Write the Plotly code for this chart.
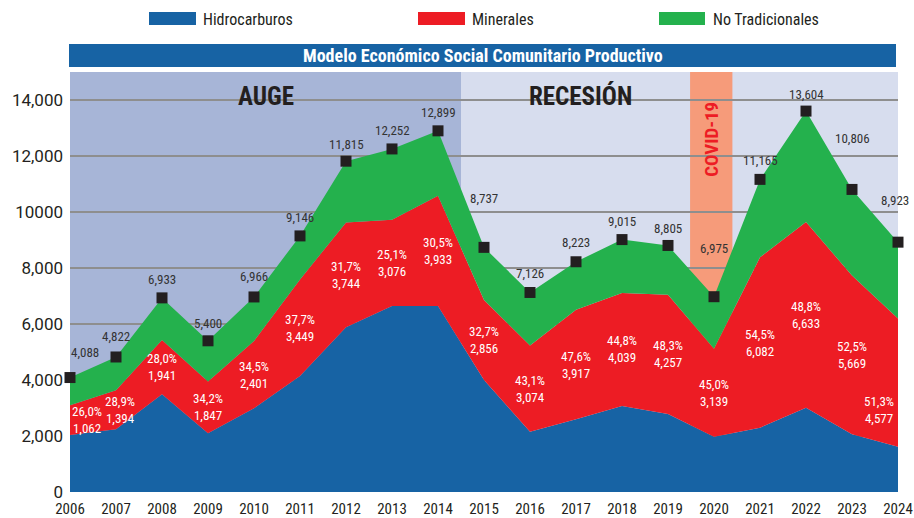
import plotly.graph_objects as go

years = list(range(2006, 2025))
total = [4088, 4822, 6933, 5400, 6966, 9146, 11815, 12252, 12899, 8737,
         7126, 8223, 9015, 8805, 6975, 11165, 13604, 10806, 8923]
hidrocarburos = [2036, 2239, 3489, 2096, 2989, 4143, 5882, 6643, 6643, 4000,
                 2155, 2595, 3071, 2786, 1976, 2298, 3012, 2060, 1619]
minerales = [1062, 1394, 1941, 1847, 2401, 3449, 3744, 3076, 3933, 2856,
             3074, 3917, 4039, 4257, 3139, 6082, 6633, 5669, 4577]
no_tradicionales = [990, 1189, 1503, 1457, 1576, 1554, 2189, 2533, 2323, 1881,
                    1897, 1711, 1905, 1762, 1860, 2785, 3959, 3077, 2727]
pct_minerales = ["26,0%", "28,9%", "28,0%", "34,2%", "34,5%", "37,7%", "31,7%",
                 "25,1%", "30,5%", "32,7%", "43,1%", "47,6%", "44,8%", "48,3%",
                 "45,0%", "54,5%", "48,8%", "52,5%", "51,3%"]
ytick_vals = [0, 2000, 4000, 6000, 8000, 10000, 12000, 14000]
ytick_text = ["0", "2,000", "4,000", "6,000", "8,000", "10000", "12,000", "14,000"]

# label placement tweaks (pixels)
total_yshift = {2006: 25, 2007: 20, 2008: 18, 2009: 17, 2010: 20, 2011: 18, 2012: 17,
                2013: 18, 2014: 18, 2015: 49, 2016: 19, 2017: 19, 2018: 18, 2019: 17,
                2020: 48, 2021: 19, 2022: 17, 2023: 51, 2024: 42}
total_xshift = {2006: 15, 2024: -3}
pct_xshift = {2006: 17, 2007: 4, 2024: -19}
pct_yshift = {2024: -27}

BLUE = "#1763A4"
RED = "#ED1C24"
GREEN = "#24B14D"
DARK = "#231F20"
COND = "Roboto Condensed, Liberation Sans Narrow, Arial Narrow, Roboto, sans-serif"

fig = go.Figure()
for name, vals, col in [("Hidrocarburos", hidrocarburos, BLUE),
                        ("Minerales", minerales, RED),
                        ("No Tradicionales", no_tradicionales, GREEN)]:
    fig.add_trace(go.Scatter(x=years, y=vals, name=name, stackgroup="one",
                             mode="lines", line=dict(width=0, color=col),
                             fillcolor=col, showlegend=False, hoverinfo="x+y+name"))

fig.add_trace(go.Scatter(x=years, y=total, mode="markers", showlegend=False,
                         marker=dict(symbol="square", size=11, color=DARK),
                         cliponaxis=False, name="Total"))

ann = []
for i, yr in enumerate(years):
    ann.append(dict(x=yr, y=total[i], xref="x", yref="y", text=f"{total[i]:,}",
                    showarrow=False, yshift=total_yshift.get(yr, 18),
                    xshift=total_xshift.get(yr, 0), yanchor="middle",
                    font=dict(family=COND, size=13, color="#333333")))
    ann.append(dict(x=yr, y=hidrocarburos[i] + minerales[i] / 2, xref="x", yref="y",
                    text=f"{pct_minerales[i]}<br>{minerales[i]:,}", showarrow=False,
                    xshift=pct_xshift.get(yr, 0), yshift=pct_yshift.get(yr, 0),
                    yanchor="middle",
                    font=dict(family=COND, size=13, color="white")))

def py(p):
    return (492 - p) / 420.0

def px(p):
    return (p - 70) / 828.0

# period labels
ann.append(dict(x=2010.27, y=py(96), xref="x", yref="paper", text="<b>AUGE</b>", showarrow=False,
                yanchor="middle", font=dict(family=COND, size=25, color=DARK)))
ann.append(dict(x=2017.1, y=py(96), xref="x", yref="paper", text="<b>RECESIÓN</b>", showarrow=False,
                yanchor="middle", font=dict(family=COND, size=25, color=DARK)))
ann.append(dict(x=2019.93, y=py(139), xref="x", yref="paper", text="<b>COVID-19</b>", showarrow=False,
                textangle=-90, yanchor="middle", font=dict(family=COND, size=19, color=RED)))
# title bar text
ann.append(dict(x=(px(69) + px(896)) / 2, y=(py(44) + py(67)) / 2, xref="paper", yref="paper",
                text="<b>Modelo Económico Social Comunitario Productivo</b>", showarrow=False,
                xanchor="center", yanchor="middle",
                font=dict(family=COND, size=18, color="white")))

shapes = [
    dict(type="rect", xref="x", yref="paper", x0=2006, x1=2014.5, y0=0, y1=1,
         fillcolor="#A7B5D7", line=dict(width=0), layer="below"),
    dict(type="rect", xref="x", yref="paper", x0=2014.5, x1=2024, y0=0, y1=1,
         fillcolor="#D7DDEE", line=dict(width=0), layer="below"),
    dict(type="rect", xref="x", yref="paper", x0=2019.48, x1=2020.4, y0=0, y1=1,
         fillcolor="#F69B7A", line=dict(width=0), layer="below"),
    dict(type="rect", xref="paper", yref="paper", x0=px(69), x1=px(896), y0=py(67), y1=py(44),
         fillcolor=BLUE, line=dict(width=0)),
]

# legend (manual)
for (x0, x1, tx, label, col) in [(149, 196, 201, "Hidrocarburos", BLUE),
                                  (418, 465, 470, "Minerales", RED),
                                  (659, 705, 711, "No Tradicionales", GREEN)]:
    shapes.append(dict(type="rect", xref="paper", yref="paper", x0=px(x0), x1=px(x1),
                       y0=py(25), y1=py(12), fillcolor=col, line=dict(width=0)))
    ann.append(dict(x=px(tx), y=py(19), xref="paper", yref="paper", text=label,
                    showarrow=False, xanchor="left", yanchor="middle",
                    font=dict(family=COND, size=16, color=DARK)))

fig.update_layout(
    width=914, height=518,
    margin=dict(l=70, r=16, t=72, b=26, pad=0),
    paper_bgcolor="white", plot_bgcolor="white",
    shapes=shapes, annotations=ann,
    xaxis=dict(range=[2006, 2024], tickmode="array", tickvals=years,
               ticktext=[str(y) for y in years], showgrid=False, zeroline=False,
               showline=False, ticks="", ticklen=0, automargin=False,
               ticklabelstandoff=6,
               tickfont=dict(family=COND, size=15, color=DARK)),
    yaxis=dict(range=[0, 15000], tickmode="array", tickvals=ytick_vals, ticktext=ytick_text,
               showgrid=True, gridcolor="#8E8E8E", gridwidth=1.5, zeroline=False,
               showline=False, ticks="", ticklabelstandoff=6, automargin=False,
               tickfont=dict(family="Roboto, sans-serif", size=17, color=DARK)),
)

fig.write_html("out.html", config={"displayModeBar": False},
               post_script="document.body.style.margin='0';document.body.style.overflow='hidden';")
